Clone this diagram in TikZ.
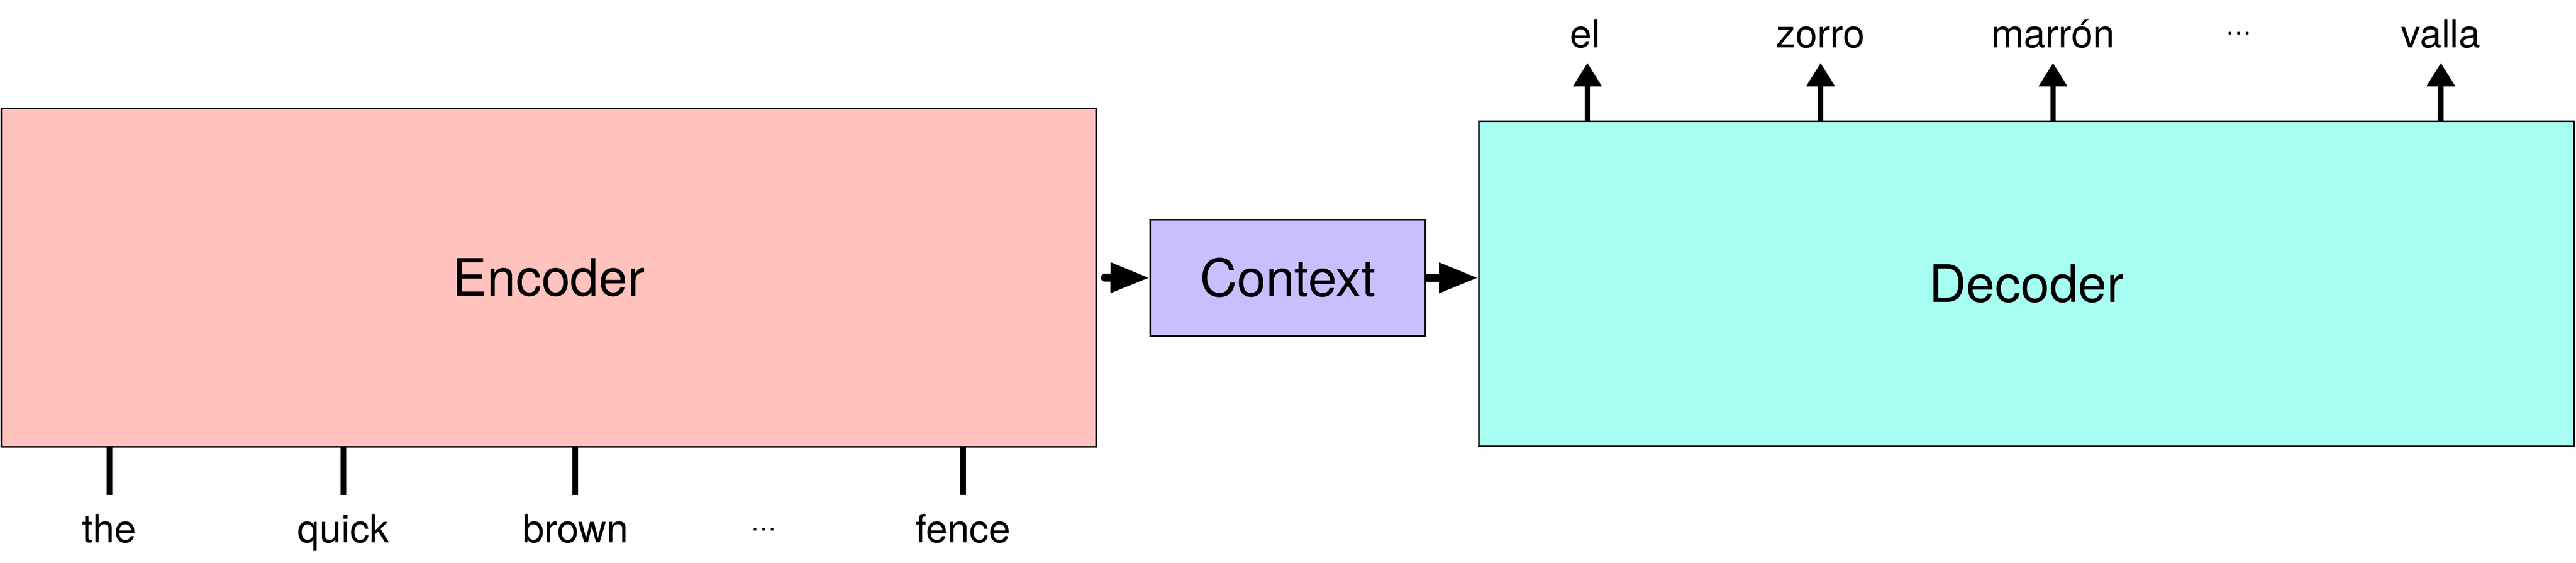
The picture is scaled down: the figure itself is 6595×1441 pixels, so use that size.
\documentclass[tikz,border=0pt]{standalone}
\usepackage{fontspec}
\setmainfont{TeX Gyre Heros}
\usetikzlibrary{arrows.meta}
\definecolor{encfill}{RGB}{255,194,189}
\definecolor{ctxfill}{RGB}{201,191,255}
\definecolor{decfill}{RGB}{166,255,242}
\begin{document}
\begin{tikzpicture}[x=0.1pt,y=-0.1pt,
  box/.style={draw=black,line width=0.4pt,rectangle,inner sep=0pt,font=\fontsize{13.2}{15}\selectfont},
  word/.style={anchor=base,inner sep=0pt,font=\fontsize{10}{12}\selectfont},
  dots/.style={anchor=base,inner sep=0pt,font=\fontsize{6.6}{8}\selectfont},
  tick/.style={line width=1.4pt},
  uparrow/.style={line width=1.4pt,-{Triangle[length=6pt,width=7pt]}},
  harrow/.style={line width=2pt,-{Triangle[length=10pt,width=7.3pt]}}]
\useasboundingbox (0,0) rectangle (6595,1441);
% boxes
\node[box,fill=encfill,minimum width=280.3pt,minimum height=86.6pt] (enc) at (1405,711) {Encoder};
\node[box,fill=ctxfill,minimum width=70.4pt,minimum height=29.7pt] (ctx) at (3297,711.5) {Context};
\node[box,fill=decfill,minimum width=280.5pt,minimum height=83.3pt] (dec) at (5188.5,726.5) {Decoder};
% input ticks and words
\coordinate (i1) at (280,1267);
\coordinate (i2) at (879,1267);
\coordinate (i3) at (1473,1267);
\coordinate (i4) at (2466,1267);
\draw[tick] (i1 |- enc.south) -- (i1);
\draw[tick] (i2 |- enc.south) -- (i2);
\draw[tick] (i3 |- enc.south) -- (i3);
\draw[tick] (i4 |- enc.south) -- (i4);
\node[word] (w1) at (280,1390) {the};
\node[word] (w2) at (879,1390) {quick};
\node[word] (w3) at (1473,1390) {brown};
\node[dots] (w4) at (1955,1359) {…};
\node[word] (w5) at (2466,1390) {fence};
% context arrows
\draw[harrow,line cap=round] ([xshift=2pt]enc.east) -- (ctx.west);
\draw[harrow] (ctx.east) -- (ctx.east -| dec.west);
% output arrows and words
\coordinate (o1) at (4064,161);
\coordinate (o2) at (4661,161);
\coordinate (o3) at (5256,161);
\coordinate (o4) at (6249,161);
\draw[uparrow] (o1 |- dec.north) -- (o1);
\draw[uparrow] (o2 |- dec.north) -- (o2);
\draw[uparrow] (o3 |- dec.north) -- (o3);
\draw[uparrow] (o4 |- dec.north) -- (o4);
\node[word] (v1) at (4058,122) {el};
\node[word] (v2) at (4661,122) {zorro};
\node[word] (v3) at (5256,122) {marrón};
\node[dots] (v4) at (5732,89) {…};
\node[word] (v5) at (6249,122) {valla};
\end{tikzpicture}
\end{document}
